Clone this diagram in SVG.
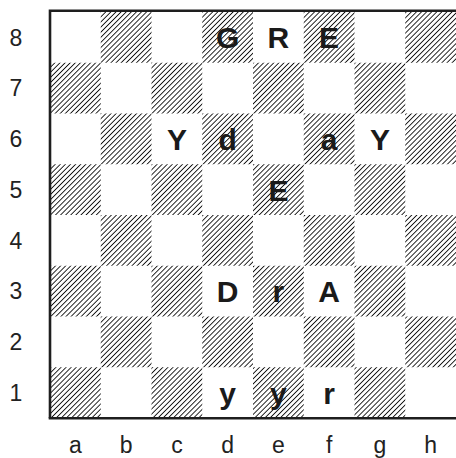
<svg xmlns="http://www.w3.org/2000/svg" width="456" height="458" viewBox="0 0 456 458">
<defs>
<pattern id="hatch" patternUnits="userSpaceOnUse" width="3.6" height="10" patternTransform="rotate(45)">
<rect x="0" y="0" width="1.2" height="10" fill="#111" shape-rendering="crispEdges"/>
</pattern>
</defs>
<style>
.dk{fill:url(#hatch)}
.pc{font-family:"Liberation Sans",Arial,sans-serif;font-weight:bold;font-size:30px;fill:#1a1a1a;text-anchor:middle}
.lb{font-family:"Liberation Sans",Arial,sans-serif;font-size:23px;fill:#222;text-anchor:middle}
.bd{stroke:#1e1e1e;stroke-width:2.6;fill:none}
</style>
<rect width="456" height="458" fill="#fff"/>
<g id="squares">
<rect class="dk" x="100.75" y="12" width="50.75" height="50.75"/>
<rect class="dk" x="202.25" y="12" width="50.75" height="50.75"/>
<rect class="dk" x="303.75" y="12" width="50.75" height="50.75"/>
<rect class="dk" x="405.25" y="12" width="50.75" height="50.75"/>
<rect class="dk" x="50" y="62.75" width="50.75" height="50.75"/>
<rect class="dk" x="151.5" y="62.75" width="50.75" height="50.75"/>
<rect class="dk" x="253" y="62.75" width="50.75" height="50.75"/>
<rect class="dk" x="354.5" y="62.75" width="50.75" height="50.75"/>
<rect class="dk" x="100.75" y="113.5" width="50.75" height="50.75"/>
<rect class="dk" x="202.25" y="113.5" width="50.75" height="50.75"/>
<rect class="dk" x="303.75" y="113.5" width="50.75" height="50.75"/>
<rect class="dk" x="405.25" y="113.5" width="50.75" height="50.75"/>
<rect class="dk" x="50" y="164.25" width="50.75" height="50.75"/>
<rect class="dk" x="151.5" y="164.25" width="50.75" height="50.75"/>
<rect class="dk" x="253" y="164.25" width="50.75" height="50.75"/>
<rect class="dk" x="354.5" y="164.25" width="50.75" height="50.75"/>
<rect class="dk" x="100.75" y="215" width="50.75" height="50.75"/>
<rect class="dk" x="202.25" y="215" width="50.75" height="50.75"/>
<rect class="dk" x="303.75" y="215" width="50.75" height="50.75"/>
<rect class="dk" x="405.25" y="215" width="50.75" height="50.75"/>
<rect class="dk" x="50" y="265.75" width="50.75" height="50.75"/>
<rect class="dk" x="151.5" y="265.75" width="50.75" height="50.75"/>
<rect class="dk" x="253" y="265.75" width="50.75" height="50.75"/>
<rect class="dk" x="354.5" y="265.75" width="50.75" height="50.75"/>
<rect class="dk" x="100.75" y="316.5" width="50.75" height="50.75"/>
<rect class="dk" x="202.25" y="316.5" width="50.75" height="50.75"/>
<rect class="dk" x="303.75" y="316.5" width="50.75" height="50.75"/>
<rect class="dk" x="405.25" y="316.5" width="50.75" height="50.75"/>
<rect class="dk" x="50" y="367.25" width="50.75" height="50.75"/>
<rect class="dk" x="151.5" y="367.25" width="50.75" height="50.75"/>
<rect class="dk" x="253" y="367.25" width="50.75" height="50.75"/>
<rect class="dk" x="354.5" y="367.25" width="50.75" height="50.75"/>
</g>
<g id="border">
<path class="bd" d="M50,418.3 V10.7 H456"/>
<path class="bd" d="M48.7,418.3 H456"/>
</g>
<g id="pieces">
<g id="d8"><text class="pc" x="227.6" y="48.4">G</text></g>
<g id="e8"><text class="pc" x="278.4" y="48.4">R</text></g>
<g id="f8"><text class="pc" x="329.1" y="48.4">E</text></g>
<g id="c6"><text class="pc" x="176.9" y="149.9">Y</text></g>
<g id="d6"><text class="pc" x="227.6" y="149.9">d</text></g>
<g id="f6"><text class="pc" x="329.1" y="149.9">a</text></g>
<g id="g6"><text class="pc" x="379.9" y="149.9">Y</text></g>
<g id="e5"><text class="pc" x="278.4" y="200.6">E</text></g>
<g id="d3"><text class="pc" x="227.6" y="302.1">D</text></g>
<g id="e3"><text class="pc" x="278.4" y="302.1">r</text></g>
<g id="f3"><text class="pc" x="329.1" y="302.1">A</text></g>
<g id="d1"><text class="pc" x="227.6" y="403.6">y</text></g>
<g id="e1"><text class="pc" x="278.4" y="403.6">y</text></g>
<g id="f1"><text class="pc" x="329.1" y="403.6">r</text></g>
</g>
<g id="ranks">
<text class="lb" x="16" y="45.6">8</text>
<text class="lb" x="16" y="96.3">7</text>
<text class="lb" x="16" y="147.1">6</text>
<text class="lb" x="16" y="197.8">5</text>
<text class="lb" x="16" y="248.6">4</text>
<text class="lb" x="16" y="299.3">3</text>
<text class="lb" x="16" y="350.1">2</text>
<text class="lb" x="16" y="400.8">1</text>
</g>
<g id="files">
<text class="lb" x="75.4" y="453">a</text>
<text class="lb" x="126.1" y="453">b</text>
<text class="lb" x="176.9" y="453">c</text>
<text class="lb" x="227.6" y="453">d</text>
<text class="lb" x="278.4" y="453">e</text>
<text class="lb" x="329.1" y="453">f</text>
<text class="lb" x="379.9" y="453">g</text>
<text class="lb" x="430.6" y="453">h</text>
</g>
</svg>
